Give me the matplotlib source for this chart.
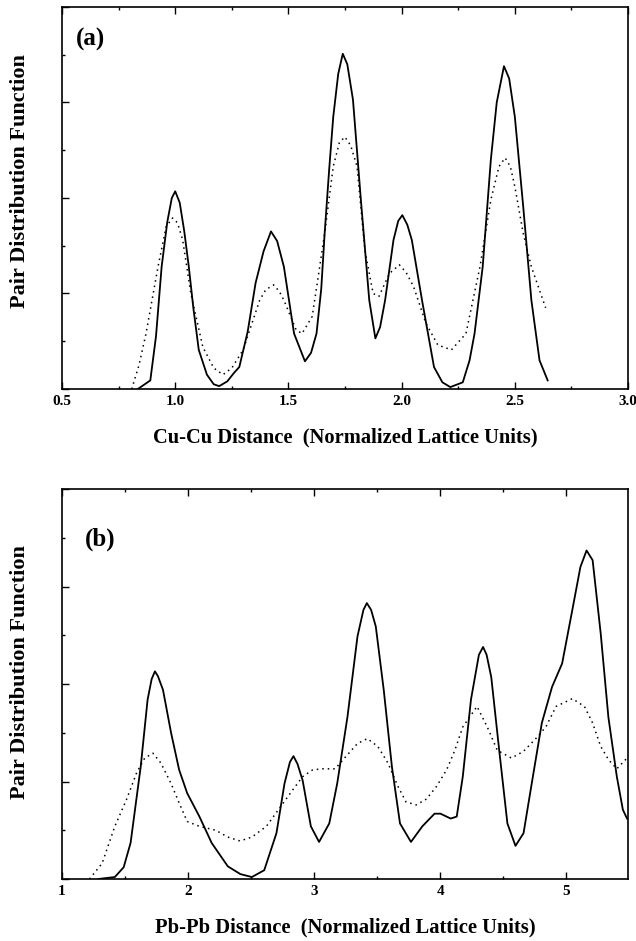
import matplotlib
matplotlib.use("Agg")
import matplotlib.pyplot as plt
from matplotlib.ticker import MultipleLocator, NullFormatter, FormatStrFormatter

plt.rcParams['font.family'] = ['Liberation Serif', 'DejaVu Serif']
plt.rcParams['font.weight'] = 'bold'

# ---------------- Panel (a): Cu-Cu ----------------
cu_solid_x = [0.835, 0.89, 0.915, 0.94, 0.965, 0.985, 1.0, 1.02, 1.04, 1.06, 1.08, 1.104, 1.14, 1.17, 1.194, 1.23,
              1.26, 1.283, 1.32, 1.355, 1.39, 1.423, 1.45, 1.48, 1.525, 1.573, 1.6, 1.624, 1.645, 1.66, 1.68, 1.698,
              1.72, 1.74, 1.76, 1.785, 1.82, 1.857, 1.884, 1.905, 1.927, 1.964, 1.985, 2.003, 2.025, 2.045, 2.09,
              2.143, 2.18, 2.215, 2.27, 2.30, 2.322, 2.358, 2.394, 2.42, 2.452, 2.475, 2.50, 2.537, 2.573, 2.609, 2.645]
cu_solid_y = [0.0, 0.09, 0.55, 1.28, 1.75, 2.0, 2.07, 1.95, 1.65, 1.28, 0.85, 0.41, 0.15, 0.05, 0.03, 0.08,
              0.17, 0.23, 0.6, 1.11, 1.44, 1.65, 1.55, 1.28, 0.58, 0.29, 0.38, 0.58, 1.05, 1.63, 2.3, 2.85,
              3.3, 3.51, 3.4, 3.03, 1.98, 0.93, 0.53, 0.65, 0.93, 1.56, 1.76, 1.82, 1.72, 1.56, 0.93,
              0.23, 0.07, 0.02, 0.07, 0.3, 0.58, 1.28, 2.40, 3.0, 3.38, 3.25, 2.85, 1.91, 0.93, 0.30, 0.09]

cu_dot_x = [0.808, 0.84, 0.871, 0.924, 0.96, 0.988, 1.01, 1.033, 1.069, 1.122, 1.17, 1.211, 1.25, 1.30, 1.373,
            1.40, 1.435, 1.46, 1.48, 1.534, 1.56, 1.605, 1.63, 1.66, 1.698, 1.725, 1.749, 1.775, 1.803, 1.838,
            1.874, 1.90, 1.946, 1.99, 2.02, 2.053, 2.107, 2.16, 2.22, 2.284, 2.346, 2.394, 2.43, 2.457, 2.48,
            2.50, 2.537, 2.573, 2.636]
cu_dot_y = [0.0, 0.25, 0.58, 1.28, 1.70, 1.79, 1.74, 1.56, 1.0, 0.44, 0.22, 0.15, 0.22, 0.41, 0.93,
            1.04, 1.09, 1.02, 0.93, 0.62, 0.58, 0.76, 1.15, 1.63, 2.33, 2.58, 2.64, 2.55, 2.33, 1.45,
            1.0, 0.97, 1.21, 1.30, 1.22, 1.07, 0.69, 0.46, 0.41, 0.58, 1.28, 1.98, 2.33, 2.42, 2.33,
            2.12, 1.63, 1.28, 0.85]

# ---------------- Panel (b): Pb-Pb ----------------
pb_solid_x = [1.288, 1.419, 1.489, 1.544, 1.624, 1.679, 1.711, 1.737, 1.761, 1.801, 1.865, 1.929, 1.993, 2.090,
              2.187, 2.315, 2.415, 2.506, 2.604, 2.701, 2.765, 2.808, 2.836, 2.868, 2.909, 2.974, 3.039, 3.120,
              3.183, 3.264, 3.344, 3.391, 3.418, 3.452, 3.489, 3.552, 3.617, 3.681, 3.768, 3.858, 3.955, 4.002,
              4.083, 4.131, 4.179, 4.244, 4.307, 4.340, 4.368, 4.405, 4.468, 4.533, 4.597, 4.661, 4.726, 4.806,
              4.887, 4.967, 5.048, 5.112, 5.161, 5.209, 5.273, 5.334, 5.401, 5.449, 5.482]
pb_solid_y = [0.0, 0.02, 0.12, 0.37, 1.15, 1.84, 2.05, 2.13, 2.08, 1.94, 1.50, 1.12, 0.88, 0.64,
              0.37, 0.13, 0.05, 0.02, 0.09, 0.47, 0.98, 1.20, 1.26, 1.18, 1.01, 0.54, 0.38, 0.57,
              0.98, 1.66, 2.49, 2.76, 2.83, 2.76, 2.59, 1.94, 1.15, 0.57, 0.38, 0.54, 0.67, 0.67,
              0.62, 0.64, 1.05, 1.84, 2.30, 2.38, 2.30, 2.07, 1.32, 0.57, 0.34, 0.47, 0.98, 1.60,
              1.97, 2.21, 2.76, 3.20, 3.37, 3.27, 2.52, 1.66, 1.05, 0.71, 0.62]

pb_dot_x = [1.218, 1.318, 1.419, 1.510, 1.592, 1.656, 1.721, 1.784, 1.865, 1.929, 1.993, 2.090, 2.219, 2.315,
            2.412, 2.506, 2.621, 2.733, 2.828, 2.909, 2.989, 3.069, 3.167, 3.247, 3.344, 3.422, 3.505, 3.585,
            3.665, 3.729, 3.810, 3.891, 3.971, 4.051, 4.116, 4.179, 4.292, 4.373, 4.453, 4.565, 4.661, 4.758,
            4.838, 4.919, 5.048, 5.144, 5.209, 5.273, 5.337, 5.401, 5.482]
pb_dot_y = [0.0, 0.16, 0.54, 0.81, 1.09, 1.24, 1.29, 1.19, 0.98, 0.78, 0.59, 0.54, 0.50, 0.43,
            0.39, 0.43, 0.54, 0.74, 0.91, 1.05, 1.12, 1.13, 1.13, 1.25, 1.39, 1.44, 1.36, 1.19,
            0.95, 0.79, 0.76, 0.82, 0.95, 1.12, 1.32, 1.56, 1.77, 1.56, 1.32, 1.24, 1.31, 1.44,
            1.56, 1.77, 1.85, 1.77, 1.60, 1.36, 1.22, 1.13, 1.24]

fig = plt.figure(figsize=(6.36, 9.41), dpi=100)
ax1 = fig.add_axes([0.0975, 0.5866, 0.890, 0.406])
ax2 = fig.add_axes([0.0975, 0.0659, 0.890, 0.4144])

for ax in (ax1, ax2):
    ax.set_ylim(0, 4)
    ax.yaxis.set_major_locator(MultipleLocator(1))
    ax.yaxis.set_minor_locator(MultipleLocator(0.5))
    ax.yaxis.set_major_formatter(NullFormatter())
    ax.tick_params(which='both', direction='in', top=True, right=False, labelsize=11, pad=4)
    ax.tick_params(which='major', length=5, width=1.0)
    ax.tick_params(which='minor', length=2.5, width=1.0)
    for s in ax.spines.values():
        s.set_linewidth(1.2)

ax1.plot(cu_solid_x, cu_solid_y, color='black', lw=1.3, solid_joinstyle='round')
ax1.plot(cu_dot_x, cu_dot_y, color='black', lw=1.1, linestyle=(0, (1, 2.6)))
ax1.set_xlim(0.5, 3.0)
ax1.xaxis.set_major_locator(MultipleLocator(0.5))
ax1.xaxis.set_minor_locator(MultipleLocator(0.25))
ax1.xaxis.set_major_formatter(FormatStrFormatter('%.1f'))
ax1.set_xlabel('Cu-Cu Distance  (Normalized Lattice Units)', fontsize=14.8, fontweight='bold', labelpad=14)
ax1.set_ylabel('Pair Distribution Function', fontsize=16, fontweight='bold')
ax1.yaxis.set_label_coords(-0.056, 0.545)
ax1.text(0.025, 0.915, '(a)', transform=ax1.transAxes, fontsize=18, fontweight='bold', va='center', ha='left')

ax2.plot(pb_solid_x, pb_solid_y, color='black', lw=1.3, solid_joinstyle='round')
ax2.plot(pb_dot_x, pb_dot_y, color='black', lw=1.1, linestyle=(0, (1, 2.6)))
ax2.set_xlim(1.0, 5.49)
ax2.xaxis.set_major_locator(MultipleLocator(1))
ax2.xaxis.set_minor_locator(MultipleLocator(0.5))
ax2.xaxis.set_major_formatter(FormatStrFormatter('%d'))
ax2.set_xlabel('Pb-Pb Distance  (Normalized Lattice Units)', fontsize=14.8, fontweight='bold', labelpad=14)
ax2.set_ylabel('Pair Distribution Function', fontsize=16, fontweight='bold')
ax2.yaxis.set_label_coords(-0.056, 0.53)
ax2.text(0.04, 0.87, '(b)', transform=ax2.transAxes, fontsize=18, fontweight='bold', va='center', ha='left')

for ax in (ax1, ax2):
    for lab in ax.get_xticklabels():
        lab.set_fontweight('bold')

fig.savefig('out.png', dpi=100)
